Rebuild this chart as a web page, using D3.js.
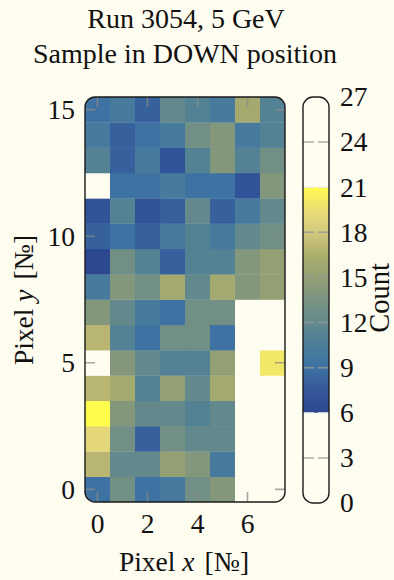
<!DOCTYPE html>
<html>
<head>
<meta charset="utf-8">
<script src="https://cdn.jsdelivr.net/npm/d3@7"></script>
<style>
  html, body { margin: 0; padding: 0; background: #fffcf0; }
  svg { display: block; }
  text { font-family: "Liberation Serif", "DejaVu Serif", serif; fill: #111; }
</style>
</head>
<body>
<svg id="chart" width="394" height="580"></svg>
<script>
// Pixel columns (x) and rows (y) of the sensor
const pixelX = [0, 1, 2, 3, 4, 5, 6, 7];
const pixelY = [0, 1, 2, 3, 4, 5, 6, 7, 8, 9, 10, 11, 12, 13, 14, 15];

// Hit counts per pixel, one row per y (from y = 0 upward), columns x = 0..7
const counts = [
  [ 9, 13,  9, 10, 13, 14,  0,  0],  // y = 0
  [17, 12, 12, 15, 14, 10,  0,  0],  // y = 1
  [19, 13,  8, 13, 12, 12,  0,  0],  // y = 2
  [21, 14, 12, 12, 11, 12,  0,  0],  // y = 3
  [17, 16, 11, 15, 12, 16,  0,  0],  // y = 4
  [ 0, 14, 12, 11, 11, 15,  0, 20],  // y = 5
  [17, 11,  9, 13, 13,  9,  0,  0],  // y = 6
  [14, 12, 10,  9, 13, 13,  0,  0],  // y = 7
  [10, 14, 13, 16, 12, 16, 14, 15],  // y = 8
  [ 6, 13, 11,  8, 11, 11, 14, 15],  // y = 9
  [ 8,  9,  8, 10, 11, 10, 12, 13],  // y = 10
  [ 7, 11,  7,  8, 12,  8, 10, 12],  // y = 11
  [ 0,  9,  9, 10,  9,  9,  7, 14],  // y = 12
  [11,  8, 10,  7, 11, 14, 11, 13],  // y = 13
  [10,  8,  9, 10, 13, 14, 10, 11],  // y = 14
  [ 9, 10,  8, 12, 11, 10, 16, 11]   // y = 15
];

// Axis ticks
const xTicks = [0, 2, 4, 6];
const yTicks = [0, 5, 10, 15];
const countTicks = [0, 3, 6, 9, 12, 15, 18, 21, 24, 27];

// Colour map: counts inside [6, 21] are coloured, everything else left blank
const cmapStops = [6, 7.5, 9, 10.5, 12, 13.5, 15, 16.5, 18, 19.5, 21];
const cmapColors = ["#2c4890", "#34589a", "#3e72a2", "#4b7e9a", "#63898c", "#7a9282",
                    "#94a074", "#acad6c", "#d2c87e", "#ecde76", "#fffc4c"];
const countMin = 6, countMax = 21;
const bg = "#fffcf0";

const svg = d3.select("#chart");
svg.append("rect").attr("width", 394).attr("height", 580).attr("fill", bg);

// Title
const title = svg.append("text").attr("text-anchor", "middle").style("font-size", "28px");
title.append("tspan").attr("x", 186).attr("y", 28).text("Run 3054, 5 GeV");
title.append("tspan").attr("x", 185).attr("y", 63).text("Sample in DOWN position");

// Plot area
const plot = { left: 85, right: 285, top: 97, bottom: 502 };
const x = d3.scaleLinear().domain([-0.5, 7.5]).range([plot.left, plot.right]);
const y = d3.scaleLinear().domain([-0.5, 15.5]).range([plot.bottom, plot.top]);
const color = d3.scaleLinear().domain(cmapStops).range(cmapColors).clamp(true);
const fillFor = v => (v < countMin || v > countMax) ? bg : color(v);

const defs = svg.append("defs");
defs.append("clipPath").attr("id", "plotClip")
  .append("rect")
  .attr("x", plot.left).attr("y", plot.top)
  .attr("width", plot.right - plot.left).attr("height", plot.bottom - plot.top)
  .attr("rx", 10).attr("ry", 10);

const cells = [];
pixelY.forEach(py => pixelX.forEach(px => cells.push({ px, py, v: counts[py][px] })));

const g = svg.append("g").attr("clip-path", "url(#plotClip)");
g.selectAll("rect.cell").data(cells).join("rect")
  .attr("class", "cell")
  .attr("x", d => x(d.px - 0.5))
  .attr("y", d => y(d.py + 0.5))
  .attr("width", d => x(d.px + 0.5) - x(d.px - 0.5) + 0.3)
  .attr("height", d => y(d.py - 0.5) - y(d.py + 0.5) + 0.3)
  .attr("fill", d => fillFor(d.v));

// Inner tick marks
const tickLen = 10;
const tickStyle = sel => sel.attr("stroke", "#8a8a8a").attr("stroke-opacity", 0.75).attr("stroke-width", 1.6);
xTicks.forEach(t => {
  tickStyle(g.append("line").attr("x1", x(t)).attr("x2", x(t)).attr("y1", plot.top).attr("y2", plot.top + tickLen));
  tickStyle(g.append("line").attr("x1", x(t)).attr("x2", x(t)).attr("y1", plot.bottom).attr("y2", plot.bottom - tickLen));
});
yTicks.forEach(t => {
  tickStyle(g.append("line").attr("y1", y(t)).attr("y2", y(t)).attr("x1", plot.left).attr("x2", plot.left + tickLen));
  tickStyle(g.append("line").attr("y1", y(t)).attr("y2", y(t)).attr("x1", plot.right).attr("x2", plot.right - tickLen));
});

// Frame
svg.append("rect")
  .attr("x", plot.left).attr("y", plot.top)
  .attr("width", plot.right - plot.left).attr("height", plot.bottom - plot.top)
  .attr("rx", 10).attr("ry", 10)
  .attr("fill", "none").attr("stroke", "#1a1a1a").attr("stroke-width", 1.4);

// Tick labels
svg.append("g").selectAll("text").data(xTicks).join("text")
  .attr("x", d => x(d)).attr("y", 533)
  .attr("text-anchor", "middle").style("font-size", "27.5px")
  .text(d => d);
svg.append("g").selectAll("text").data(yTicks).join("text")
  .attr("x", 75).attr("y", d => y(d))
  .attr("dy", "0.34em")
  .attr("text-anchor", "end").style("font-size", "27.5px")
  .text(d => d);

// Axis labels
const xl = svg.append("text").attr("x", 184).attr("y", 571)
  .attr("text-anchor", "middle").style("font-size", "27.5px");
xl.append("tspan").text("Pixel ");
xl.append("tspan").style("font-style", "italic").text("x");
xl.append("tspan").attr("dx", 10).text("[№]");

const yl = svg.append("text")
  .attr("transform", "translate(33,300) rotate(-90)")
  .attr("text-anchor", "middle").style("font-size", "27.5px");
yl.append("tspan").text("Pixel ");
yl.append("tspan").style("font-style", "italic").text("y");
yl.append("tspan").attr("dx", 10).text("[№]");

// Colour bar
const cb = { left: 303, right: 329, top: 97, bottom: 503 };
const cy = d3.scaleLinear().domain([0, 27]).range([cb.bottom, cb.top]);

defs.append("clipPath").attr("id", "cbClip")
  .append("rect")
  .attr("x", cb.left).attr("y", cb.top)
  .attr("width", cb.right - cb.left).attr("height", cb.bottom - cb.top)
  .attr("rx", 10).attr("ry", 10);

const grad = defs.append("linearGradient").attr("id", "cbGrad")
  .attr("x1", 0).attr("y1", 1).attr("x2", 0).attr("y2", 0);
d3.range(0, 61).forEach(i => {
  const v = countMin + (countMax - countMin) * i / 60;
  grad.append("stop").attr("offset", i / 60).attr("stop-color", color(v));
});

const cbg = svg.append("g").attr("clip-path", "url(#cbClip)");
cbg.append("rect")
  .attr("x", cb.left).attr("y", cb.top)
  .attr("width", cb.right - cb.left).attr("height", cb.bottom - cb.top)
  .attr("fill", bg);
cbg.append("rect")
  .attr("x", cb.left).attr("y", cy(countMax))
  .attr("width", cb.right - cb.left).attr("height", cy(countMin) - cy(countMax))
  .attr("fill", "url(#cbGrad)");
countTicks.forEach(t => {
  if (t === 0 || t === 27) return;
  const c = (t === countMin || t === countMax) ? "#e8e8e8" : "#9a9a9a";
  cbg.append("line").attr("x1", cb.left).attr("x2", cb.left + 11).attr("y1", cy(t)).attr("y2", cy(t))
    .attr("stroke", c).attr("stroke-width", 1.5).attr("stroke-opacity", 0.8);
  cbg.append("line").attr("x1", cb.right - 11).attr("x2", cb.right).attr("y1", cy(t)).attr("y2", cy(t))
    .attr("stroke", c).attr("stroke-width", 1.5).attr("stroke-opacity", 0.8);
});
svg.append("rect")
  .attr("x", cb.left).attr("y", cb.top)
  .attr("width", cb.right - cb.left).attr("height", cb.bottom - cb.top)
  .attr("rx", 10).attr("ry", 10)
  .attr("fill", "none").attr("stroke", "#1a1a1a").attr("stroke-width", 1.4);

svg.append("g").selectAll("text").data(countTicks).join("text")
  .attr("x", 340).attr("y", d => cy(d))
  .attr("dy", "0.34em")
  .style("font-size", "27.5px")
  .text(d => d);

svg.append("text")
  .attr("transform", "translate(389,298) rotate(-90)")
  .attr("text-anchor", "middle").style("font-size", "28.5px")
  .text("Count");
</script>
</body>
</html>
